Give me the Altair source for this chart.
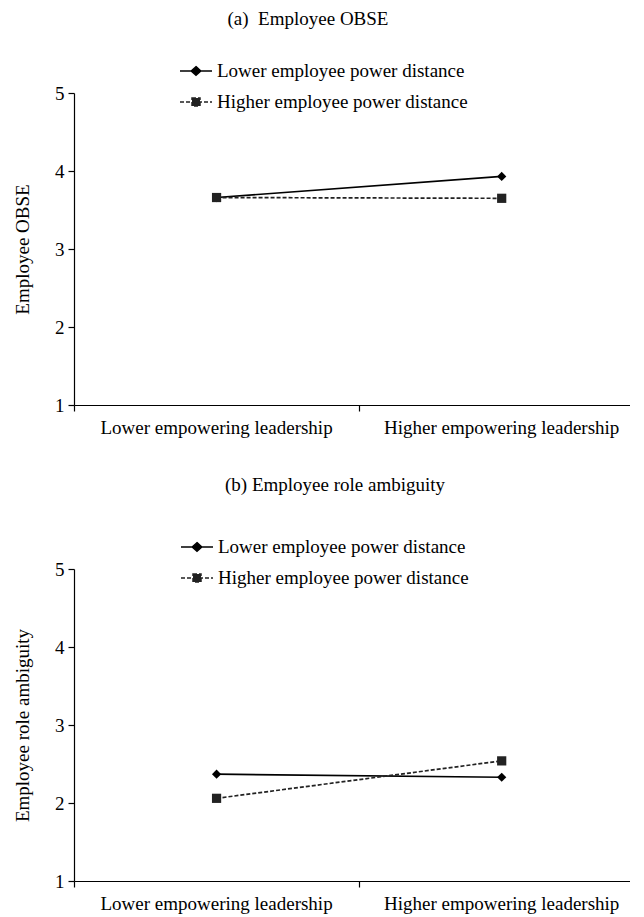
import altair as alt
import pandas as pd

# ---------------- data ----------------
leadership_levels = ["Lower empowering leadership", "Higher empowering leadership"]
leadership_pos = [0.5, 1.5]
series_names = ["Lower employee power distance", "Higher employee power distance"]

# (a) Employee OBSE
obse_lower_pd = [3.66, 3.93]
obse_higher_pd = [3.66, 3.65]
# (b) Employee role ambiguity
amb_lower_pd = [2.37, 2.33]
amb_higher_pd = [2.06, 2.54]

y_ticks = [1, 2, 3, 4, 5]
x_tick_values = [0, 1]

FONT = "Liberation Serif"
FS = 19
W, H = 556, 312

DIAMOND_LEG = "M-1,0L1,0M0,-0.27L0.3,0L0,0.27L-0.3,0Z"
SQUARE_LEG = "M-1,0L1,0M-0.25,-0.25L0.25,-0.25L0.25,0.25L-0.25,0.25Z"


def series_df(values, name):
    return pd.DataFrame({"pos": leadership_pos, "value": values, "series": [name] * len(values)})


def panel(title, title_dx, title_offset, ytitle, lower_vals, higher_vals, legend_x):
    xscale = alt.Scale(domain=[0, 1.95], nice=False, zero=False)
    yscale = alt.Scale(domain=[1, 5], nice=False, zero=False)
    X = alt.X("pos:Q", scale=xscale,
              axis=alt.Axis(values=x_tick_values, labels=False, tickSize=6, title=None,
                            grid=False, domainColor="black", tickColor="black"))
    Y = alt.Y("value:Q", scale=yscale,
              axis=alt.Axis(values=y_ticks, title=ytitle, tickSize=6, labelPadding=4,
                            titlePadding=22, grid=False, format="d"))

    def layer(vals, name, shape, leg_path, dash, leg_y, col):
        legend_kwargs = dict(title=None, orient="none", legendX=legend_x, legendY=leg_y,
                             symbolType=leg_path, symbolSize=32 * 32, symbolStrokeWidth=1.5,
                             symbolFillColor=col, symbolStrokeColor=col, symbolOpacity=1,
                             labelFont=FONT, labelFontSize=FS, labelColor="black",
                             labelOffset=4, padding=0, labelLimit=400)
        if dash:
            legend_kwargs["symbolDash"] = dash
        color = alt.Color("series:N", scale=alt.Scale(domain=[name], range=[col]),
                          legend=alt.Legend(**legend_kwargs))
        base = alt.Chart(series_df(vals, name))
        line_kwargs = dict(strokeWidth=1.7)
        if dash:
            line_kwargs["strokeDash"] = dash
        line = base.mark_line(**line_kwargs).encode(x=X, y=Y, color=color)
        pts = base.mark_point(filled=True, size=85, shape=shape, opacity=1).encode(x=X, y=Y, color=color)
        return alt.layer(line, pts)

    lower = layer(lower_vals, series_names[0], "diamond", DIAMOND_LEG, None, -39, "black")
    higher = layer(higher_vals, series_names[1], "square", SQUARE_LEG, [4, 2], -8, "#222222")

    labels = alt.Chart(pd.DataFrame({"pos": leadership_pos, "label": leadership_levels})).mark_text(
        font=FONT, fontSize=FS, baseline="middle", color="black"
    ).encode(x=X, y=alt.value(H + 23), text="label:N")

    return alt.layer(lower, higher, labels).resolve_scale(color="independent").properties(
        width=W, height=H,
        title=alt.TitleParams(title, font=FONT, fontSize=FS, fontWeight="normal", color="black",
                              anchor="middle", dx=title_dx, offset=title_offset),
    )


pa = panel("(a)\u00a0 Employee OBSE", -44, 25, "Employee OBSE", obse_lower_pd, obse_higher_pd, 105)
pb = panel("(b) Employee role ambiguity", -17, 35, "Employee role ambiguity", amb_lower_pd, amb_higher_pd, 106)

chart = alt.vconcat(pa, pb, spacing=38).properties(
    padding={"left": 5, "top": 2, "right": 0, "bottom": 0}
).configure_view(stroke=None).configure_axis(
    labelFont=FONT, labelFontSize=FS, labelColor="black",
    titleFont=FONT, titleFontSize=FS, titleFontWeight="normal", titleColor="black",
    domainColor="black", tickColor="black", domainWidth=1.2, tickWidth=1.2,
)

chart.save("out.html", embed_options={"renderer": "svg", "actions": False})
